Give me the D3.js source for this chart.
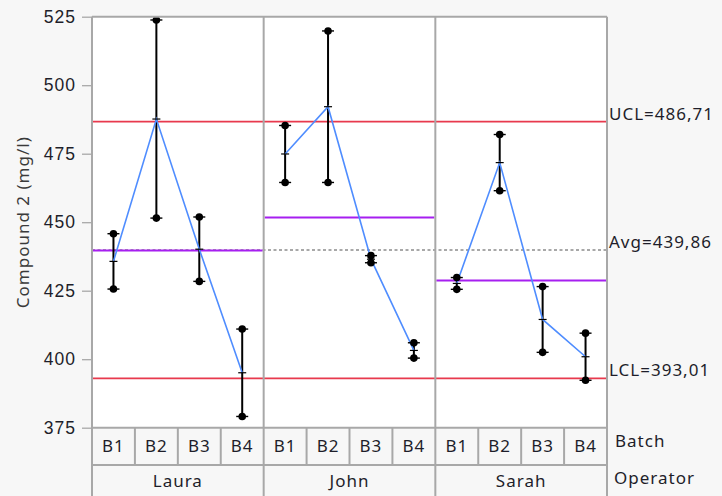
<!DOCTYPE html>
<html>
<head>
<meta charset="utf-8">
<script src="https://cdn.jsdelivr.net/npm/d3@7"></script>
<style>
  html, body { margin: 0; padding: 0; background: #f7f7f7; }
  svg { display: block; font-family: "Segoe UI", "Noto Sans", "Open Sans", sans-serif; }
  text { fill: #1e1e2a; font-size: 17px; letter-spacing: 1px; }
</style>
</head>
<body>
<svg id="chart" width="722" height="496"></svg>
<script>
// Variability chart: Compound 2 by Batch within Operator
const operators = ["Laura", "John", "Sarah"];
const batches = ["B1", "B2", "B3", "B4"];

// two measurements per batch, one array per operator
const lauraValues = [[445.8, 425.6], [523.8, 451.5], [451.9, 428.4], [411.0, 379.1]];
const johnValues  = [[485.3, 464.5], [519.8, 464.5], [437.8, 435.2], [406.0, 400.4]];
const sarahValues = [[429.8, 425.5], [482.0, 461.5], [426.5, 402.5], [409.5, 392.3]];
const seriesValues = [lauraValues, johnValues, sarahValues];

const yTicks = [375, 400, 425, 450, 475, 500, 525];
const limitUCL = 486.71;
const limitLCL = 393.01;
const grandAvg = 439.86;
const limitLabels = ["UCL=486,71", "Avg=439,86", "LCL=393,01"];
const yTitle = "Compound 2 (mg/l)";
const rowTitles = ["Batch", "Operator"];

const svg = d3.select("#chart");
const pLeft = 92, pRight = 607, pTop = 16.7, pBottom = 427.7;
const batchRowBottom = 465, H = 496;

const y = d3.scaleLinear().domain([375, 525]).range([pBottom, pTop]);
const xOp = d3.scaleBand().domain(operators).range([pLeft, pRight]);
const xB = d3.scaleBand().domain(batches).range([0, xOp.bandwidth()]);
const cx = (op, b) => xOp(op) + xB(b) + xB.bandwidth() / 2;

const gridColor = "#a8a8a8";

// plot background
svg.append("rect").attr("x", pLeft).attr("y", pTop).attr("width", pRight - pLeft)
  .attr("height", pBottom - pTop).attr("fill", "#ffffff");

// y axis ticks and labels
const yAxis = d3.axisLeft(y).tickValues(yTicks).tickSize(10).tickPadding(6);
const gy = svg.append("g").attr("transform", `translate(${pLeft},0)`).call(yAxis);
gy.select(".domain").remove();
gy.selectAll(".tick line").attr("stroke", gridColor).attr("stroke-width", 1.3);
gy.selectAll(".tick text").style("font-size", "17.5px").style("font-family", "inherit").attr("fill", "#1e1e2a");

svg.append("text")
  .attr("transform", `translate(29,${(pTop + pBottom) / 2}) rotate(-90)`)
  .attr("text-anchor", "middle").style("fill", "#3a3a3a").text(yTitle);

// control limits and grand average
const limitColor = "#e8394d";
[limitUCL, limitLCL].forEach(v => {
  svg.append("line").attr("x1", pLeft).attr("x2", pRight).attr("y1", y(v)).attr("y2", y(v))
    .attr("stroke", limitColor).attr("stroke-width", 1.6);
});
svg.append("line").attr("x1", pLeft).attr("x2", pRight).attr("y1", y(grandAvg)).attr("y2", y(grandAvg))
  .attr("stroke", "#8c8c8c").attr("stroke-width", 1.3).attr("stroke-dasharray", "3,2.5");

// operator means
const mean = arr => d3.mean(arr);
operators.forEach((op, i) => {
  const opMean = d3.mean(seriesValues[i].flat());
  svg.append("line").attr("x1", xOp(op) + 1).attr("x2", xOp(op) + xOp.bandwidth() - 1)
    .attr("y1", y(opMean)).attr("y2", y(opMean))
    .attr("stroke", "#a61ff0").attr("stroke-width", 2);
});

// range bars and cell means
const line = d3.line().x(d => d.x).y(d => y(d.v));
operators.forEach((op, i) => {
  const cells = batches.map((b, j) => ({ x: cx(op, b), vals: seriesValues[i][j], v: mean(seriesValues[i][j]) }));
  const g = svg.append("g");
  cells.forEach(c => {
    const lo = d3.min(c.vals), hi = d3.max(c.vals);
    g.append("line").attr("x1", c.x).attr("x2", c.x).attr("y1", y(hi)).attr("y2", y(lo))
      .attr("stroke", "#000").attr("stroke-width", 2);
  });
  g.append("path").datum(cells).attr("d", line).attr("fill", "none")
    .attr("stroke", "#4f8dff").attr("stroke-width", 1.6);
  cells.forEach(c => {
    g.append("line").attr("x1", c.x - 4).attr("x2", c.x + 4).attr("y1", y(c.v)).attr("y2", y(c.v))
      .attr("stroke", "#000").attr("stroke-width", 1.2);
    c.vals.forEach(v => {
      g.append("line").attr("x1", c.x - 6).attr("x2", c.x + 6).attr("y1", y(v)).attr("y2", y(v))
        .attr("stroke", "#000").attr("stroke-width", 1.4);
      g.append("circle").attr("cx", c.x).attr("cy", y(v)).attr("r", 3.8).attr("fill", "#000");
    });
  });
});

// limit labels on the right
[[limitUCL, limitLabels[0]], [grandAvg, limitLabels[1]], [limitLCL, limitLabels[2]]].forEach(([v, t]) => {
  svg.append("text").attr("x", pRight + 2).attr("y", y(v) - 2).text(t);
});

// frame and grid of the category rows
const frame = svg.append("g").attr("stroke", gridColor).attr("stroke-width", 2).attr("fill", "none");
frame.append("line").attr("x1", pLeft).attr("x2", pRight).attr("y1", pTop).attr("y2", pTop);
frame.append("line").attr("x1", pLeft).attr("x2", pRight).attr("y1", pBottom).attr("y2", pBottom);
frame.append("line").attr("x1", pLeft).attr("x2", pRight).attr("y1", batchRowBottom).attr("y2", batchRowBottom);
[pLeft, ...operators.slice(1).map(op => xOp(op)), pRight].forEach(xv => {
  frame.append("line").attr("x1", xv).attr("x2", xv).attr("y1", pTop).attr("y2", H);
});
operators.forEach(op => {
  batches.slice(1).forEach(b => {
    const xv = xOp(op) + xB(b);
    frame.append("line").attr("x1", xv).attr("x2", xv).attr("y1", pBottom).attr("y2", batchRowBottom);
  });
});

// category labels
operators.forEach(op => {
  batches.forEach(b => {
    svg.append("text").attr("x", cx(op, b)).attr("y", 452)
      .attr("text-anchor", "middle").text(b);
  });
  svg.append("text").attr("x", xOp(op) + xOp.bandwidth() / 2).attr("y", 487)
    .attr("text-anchor", "middle").text(op);
});
svg.append("text").attr("x", pRight + 8).attr("y", 447).text(rowTitles[0]);
svg.append("text").attr("x", pRight + 7).attr("y", 484).text(rowTitles[1]);
</script>
</body>
</html>
